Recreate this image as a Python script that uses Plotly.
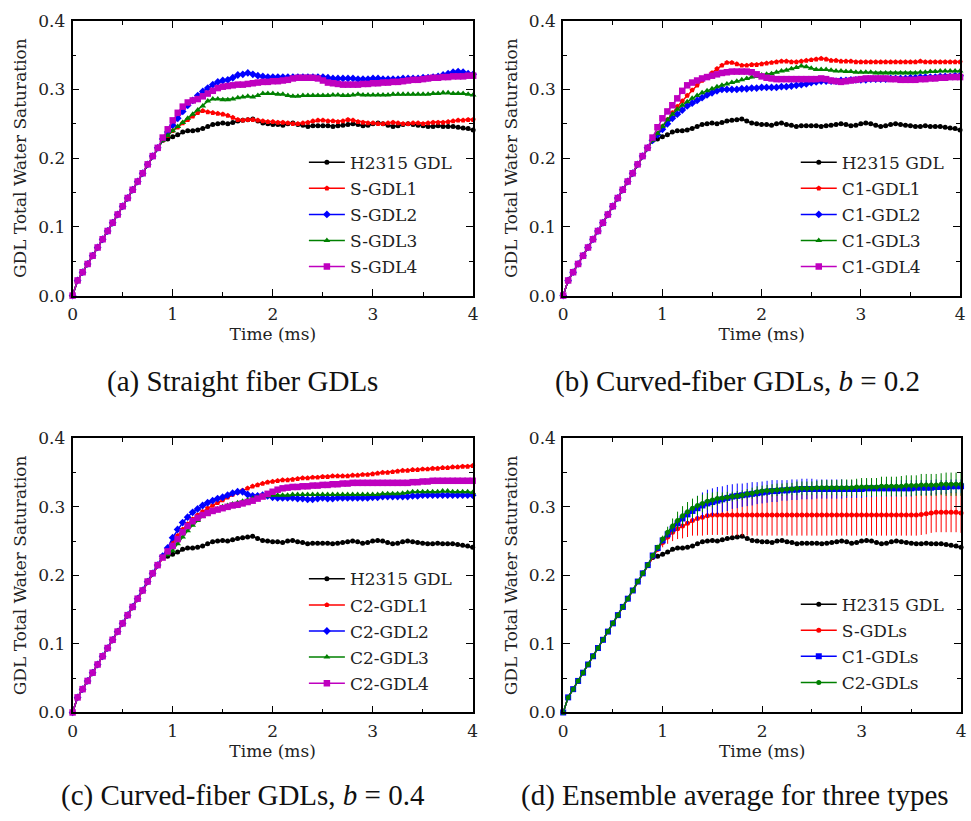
import plotly.graph_objects as go

# ---------------- data ----------------
TIME = [0.00, 0.05, 0.10, 0.15, 0.20, 0.25, 0.30, 0.35, 0.40, 0.45,
        0.50, 0.55, 0.60, 0.65, 0.70, 0.75, 0.80, 0.85, 0.90, 0.95,
        1.00, 1.05, 1.10, 1.15, 1.20, 1.25, 1.30, 1.35, 1.40, 1.45,
        1.50, 1.55, 1.60, 1.65, 1.70, 1.75, 1.80, 1.85, 1.90, 1.95,
        2.00, 2.05, 2.10, 2.15, 2.20, 2.25, 2.30, 2.35, 2.40, 2.45,
        2.50, 2.55, 2.60, 2.65, 2.70, 2.75, 2.80, 2.85, 2.90, 2.95,
        3.00, 3.05, 3.10, 3.15, 3.20, 3.25, 3.30, 3.35, 3.40, 3.45,
        3.50, 3.55, 3.60, 3.65, 3.70, 3.75, 3.80, 3.85, 3.90, 3.95,
        4.00]

# common initial ramp, t = 0.00 .. 0.85
RAMP = [0.000, 0.022, 0.034, 0.046, 0.058, 0.070, 0.082, 0.094, 0.106, 0.118,
        0.130, 0.142, 0.154, 0.166, 0.178, 0.191, 0.203, 0.215]
RAMP_ERR = [0, 0, 0, 0, 0, 0, 0, 0, 0, 0, 0, 0, 0, 0, 0, 0, 0, 0]

# tails, t = 0.90 .. 4.00
H2315 = [0.226, 0.228, 0.231, 0.234, 0.238, 0.240, 0.240, 0.241, 0.243, 0.246,
         0.249, 0.250, 0.251, 0.250, 0.252, 0.254, 0.255, 0.256, 0.257, 0.254,
         0.251, 0.250, 0.249, 0.249, 0.248, 0.250, 0.251, 0.249, 0.248, 0.246,
         0.247, 0.247, 0.247, 0.247, 0.246, 0.247, 0.248, 0.249, 0.250, 0.249,
         0.247, 0.248, 0.250, 0.251, 0.250, 0.248, 0.246, 0.247, 0.249, 0.250,
         0.249, 0.248, 0.247, 0.246, 0.246, 0.247, 0.246, 0.246, 0.246, 0.245,
         0.244, 0.243, 0.241]

S_GDL1 = [0.226, 0.233, 0.240, 0.245, 0.251, 0.256, 0.261, 0.266, 0.269, 0.267,
          0.266, 0.265, 0.264, 0.262, 0.259, 0.256, 0.255, 0.256, 0.256, 0.255,
          0.254, 0.253, 0.253, 0.252, 0.252, 0.251, 0.250, 0.250, 0.251, 0.252,
          0.254, 0.255, 0.255, 0.254, 0.254, 0.253, 0.254, 0.256, 0.255, 0.253,
          0.252, 0.251, 0.251, 0.250, 0.250, 0.251, 0.252, 0.251, 0.250, 0.250,
          0.251, 0.251, 0.250, 0.251, 0.252, 0.252, 0.252, 0.253, 0.254, 0.255,
          0.255, 0.256, 0.256]
S_GDL2 = [0.228, 0.238, 0.248, 0.258, 0.268, 0.277, 0.284, 0.291, 0.297, 0.302,
          0.307, 0.311, 0.313, 0.314, 0.317, 0.321, 0.322, 0.324, 0.322, 0.320,
          0.319, 0.318, 0.318, 0.318, 0.318, 0.318, 0.318, 0.318, 0.318, 0.318,
          0.318, 0.318, 0.318, 0.317, 0.316, 0.316, 0.316, 0.316, 0.316, 0.315,
          0.315, 0.315, 0.316, 0.316, 0.315, 0.315, 0.315, 0.315, 0.316, 0.316,
          0.316, 0.316, 0.317, 0.317, 0.318, 0.319, 0.321, 0.323, 0.325, 0.326,
          0.325, 0.323, 0.322]
S_GDL3 = [0.226, 0.233, 0.240, 0.246, 0.252, 0.258, 0.264, 0.270, 0.276, 0.283,
          0.286, 0.286, 0.285, 0.285, 0.286, 0.288, 0.289, 0.290, 0.289, 0.291,
          0.294, 0.294, 0.294, 0.293, 0.293, 0.291, 0.290, 0.290, 0.291, 0.291,
          0.291, 0.291, 0.291, 0.291, 0.292, 0.292, 0.291, 0.291, 0.292, 0.293,
          0.292, 0.292, 0.292, 0.292, 0.292, 0.292, 0.293, 0.293, 0.293, 0.293,
          0.293, 0.293, 0.293, 0.293, 0.294, 0.294, 0.295, 0.295, 0.294, 0.294,
          0.294, 0.293, 0.292]
S_GDL4 = [0.230, 0.242, 0.255, 0.266, 0.275, 0.281, 0.284, 0.286, 0.290, 0.294,
          0.298, 0.302, 0.304, 0.305, 0.306, 0.307, 0.307, 0.308, 0.309, 0.310,
          0.311, 0.311, 0.312, 0.312, 0.313, 0.314, 0.316, 0.317, 0.317, 0.317,
          0.317, 0.316, 0.313, 0.310, 0.309, 0.308, 0.307, 0.307, 0.307, 0.307,
          0.308, 0.308, 0.309, 0.309, 0.310, 0.310, 0.311, 0.311, 0.312, 0.313,
          0.314, 0.314, 0.315, 0.316, 0.317, 0.317, 0.318, 0.318, 0.319, 0.319,
          0.319, 0.320, 0.320]

C1_GDL1 = [0.226, 0.236, 0.246, 0.256, 0.266, 0.275, 0.283, 0.291, 0.299, 0.306,
           0.313, 0.319, 0.324, 0.330, 0.335, 0.339, 0.339, 0.337, 0.335, 0.335,
           0.336, 0.336, 0.337, 0.338, 0.339, 0.340, 0.341, 0.341, 0.340, 0.340,
           0.341, 0.342, 0.343, 0.344, 0.345, 0.344, 0.342, 0.342, 0.341, 0.341,
           0.341, 0.340, 0.340, 0.340, 0.340, 0.340, 0.340, 0.340, 0.340, 0.340,
           0.340, 0.340, 0.340, 0.340, 0.341, 0.340, 0.340, 0.340, 0.340, 0.340,
           0.340, 0.340, 0.340]
C1_GDL2 = [0.226, 0.234, 0.242, 0.250, 0.258, 0.264, 0.270, 0.276, 0.280, 0.284,
           0.288, 0.292, 0.295, 0.298, 0.300, 0.300, 0.300, 0.300, 0.301, 0.301,
           0.302, 0.302, 0.303, 0.303, 0.303, 0.303, 0.304, 0.304, 0.305, 0.306,
           0.307, 0.308, 0.310, 0.311, 0.312, 0.312, 0.312, 0.312, 0.313, 0.313,
           0.314, 0.314, 0.314, 0.314, 0.315, 0.315, 0.315, 0.315, 0.316, 0.316,
           0.316, 0.316, 0.317, 0.317, 0.318, 0.318, 0.318, 0.318, 0.319, 0.319,
           0.319, 0.320, 0.320]
C1_GDL3 = [0.226, 0.236, 0.246, 0.256, 0.264, 0.271, 0.277, 0.282, 0.287, 0.291,
           0.295, 0.298, 0.301, 0.304, 0.306, 0.308, 0.310, 0.312, 0.314, 0.316,
           0.318, 0.319, 0.321, 0.322, 0.323, 0.325, 0.327, 0.328, 0.330, 0.332,
           0.334, 0.333, 0.331, 0.329, 0.329, 0.329, 0.328, 0.327, 0.327, 0.326,
           0.326, 0.325, 0.325, 0.325, 0.325, 0.324, 0.324, 0.324, 0.324, 0.324,
           0.324, 0.324, 0.324, 0.324, 0.325, 0.325, 0.326, 0.326, 0.327, 0.327,
           0.327, 0.327, 0.327]
C1_GDL4 = [0.230, 0.245, 0.258, 0.268, 0.277, 0.287, 0.298, 0.306, 0.310, 0.313,
           0.316, 0.318, 0.320, 0.322, 0.324, 0.325, 0.326, 0.326, 0.326, 0.326,
           0.325, 0.322, 0.319, 0.317, 0.316, 0.315, 0.315, 0.315, 0.315, 0.315,
           0.315, 0.315, 0.315, 0.315, 0.316, 0.315, 0.313, 0.312, 0.311, 0.312,
           0.313, 0.314, 0.315, 0.316, 0.316, 0.316, 0.316, 0.316, 0.315, 0.315,
           0.314, 0.314, 0.314, 0.314, 0.315, 0.315, 0.316, 0.316, 0.317, 0.317,
           0.318, 0.318, 0.318]

C2_GDL1 = [0.226, 0.237, 0.248, 0.258, 0.267, 0.275, 0.282, 0.288, 0.293, 0.298,
           0.302, 0.306, 0.310, 0.314, 0.318, 0.321, 0.324, 0.327, 0.330, 0.332,
           0.334, 0.336, 0.337, 0.338, 0.339, 0.339, 0.340, 0.341, 0.342, 0.342,
           0.343, 0.343, 0.344, 0.344, 0.345, 0.345, 0.345, 0.345, 0.346, 0.346,
           0.347, 0.347, 0.348, 0.349, 0.350, 0.350, 0.351, 0.352, 0.353, 0.353,
           0.354, 0.354, 0.355, 0.355, 0.356, 0.356, 0.357, 0.357, 0.358, 0.358,
           0.359, 0.359, 0.360]
C2_GDL2 = [0.228, 0.240, 0.255, 0.267, 0.277, 0.285, 0.292, 0.297, 0.302, 0.306,
           0.309, 0.312, 0.314, 0.317, 0.320, 0.322, 0.322, 0.318, 0.316, 0.316,
           0.317, 0.316, 0.314, 0.313, 0.313, 0.313, 0.313, 0.312, 0.312, 0.311,
           0.311, 0.312, 0.313, 0.312, 0.312, 0.313, 0.313, 0.313, 0.313, 0.313,
           0.313, 0.313, 0.314, 0.314, 0.315, 0.315, 0.315, 0.315, 0.315, 0.315,
           0.316, 0.316, 0.317, 0.317, 0.317, 0.317, 0.317, 0.317, 0.317, 0.317,
           0.317, 0.317, 0.317]
C2_GDL3 = [0.226, 0.230, 0.236, 0.246, 0.256, 0.265, 0.273, 0.280, 0.286, 0.290,
           0.294, 0.297, 0.300, 0.302, 0.304, 0.306, 0.308, 0.310, 0.312, 0.314,
           0.316, 0.316, 0.317, 0.317, 0.317, 0.317, 0.318, 0.318, 0.318, 0.318,
           0.318, 0.318, 0.318, 0.318, 0.318, 0.318, 0.318, 0.318, 0.318, 0.318,
           0.318, 0.318, 0.318, 0.318, 0.319, 0.319, 0.319, 0.319, 0.320, 0.321,
           0.322, 0.322, 0.322, 0.322, 0.322, 0.322, 0.323, 0.323, 0.322, 0.322,
           0.322, 0.322, 0.321]
C2_GDL4 = [0.226, 0.235, 0.243, 0.253, 0.263, 0.272, 0.279, 0.284, 0.288, 0.291,
           0.294, 0.296, 0.298, 0.300, 0.302, 0.303, 0.305, 0.307, 0.309, 0.312,
           0.315, 0.319, 0.322, 0.325, 0.327, 0.328, 0.329, 0.329, 0.330, 0.330,
           0.331, 0.331, 0.332, 0.332, 0.333, 0.333, 0.334, 0.334, 0.335, 0.335,
           0.335, 0.335, 0.335, 0.335, 0.335, 0.335, 0.335, 0.335, 0.335, 0.335,
           0.336, 0.336, 0.337, 0.337, 0.338, 0.338, 0.338, 0.338, 0.338, 0.338,
           0.338, 0.338, 0.338]

S_MEAN = [0.228, 0.238, 0.248, 0.256, 0.263, 0.268, 0.272, 0.276, 0.280, 0.283,
          0.285, 0.287, 0.288, 0.288, 0.288, 0.288, 0.288, 0.288, 0.288, 0.288,
          0.288, 0.288, 0.288, 0.288, 0.288, 0.288, 0.288, 0.288, 0.288, 0.288,
          0.288, 0.288, 0.288, 0.288, 0.288, 0.288, 0.288, 0.288, 0.288, 0.288,
          0.288, 0.288, 0.288, 0.288, 0.288, 0.288, 0.288, 0.288, 0.288, 0.288,
          0.288, 0.288, 0.288, 0.288, 0.289, 0.290, 0.291, 0.292, 0.292, 0.292,
          0.292, 0.292, 0.291]
S_ERR = [0.001, 0.004, 0.007, 0.010, 0.013, 0.015, 0.018, 0.020, 0.022, 0.025,
         0.027, 0.028, 0.029, 0.029, 0.029, 0.029, 0.030, 0.030, 0.030, 0.030,
         0.030, 0.030, 0.030, 0.030, 0.030, 0.030, 0.030, 0.030, 0.030, 0.030,
         0.030, 0.030, 0.030, 0.030, 0.030, 0.030, 0.030, 0.030, 0.030, 0.030,
         0.030, 0.030, 0.030, 0.030, 0.030, 0.030, 0.030, 0.030, 0.030, 0.030,
         0.030, 0.030, 0.030, 0.030, 0.030, 0.030, 0.029, 0.029, 0.029, 0.029,
         0.029, 0.029, 0.029]
C1_MEAN = [0.229, 0.240, 0.251, 0.260, 0.268, 0.276, 0.283, 0.289, 0.294, 0.298,
           0.302, 0.305, 0.307, 0.309, 0.311, 0.313, 0.315, 0.316, 0.317, 0.318,
           0.319, 0.320, 0.321, 0.322, 0.323, 0.323, 0.324, 0.324, 0.325, 0.325,
           0.326, 0.326, 0.326, 0.326, 0.326, 0.326, 0.326, 0.326, 0.326, 0.326,
           0.326, 0.326, 0.326, 0.327, 0.327, 0.327, 0.327, 0.327, 0.327, 0.327,
           0.327, 0.327, 0.327, 0.328, 0.328, 0.328, 0.328, 0.329, 0.329, 0.329,
           0.330, 0.330, 0.330]
C1_ERR = [0.000, 0.002, 0.004, 0.006, 0.008, 0.010, 0.012, 0.014, 0.016, 0.018,
          0.019, 0.020, 0.020, 0.020, 0.019, 0.019, 0.018, 0.018, 0.017, 0.017,
          0.017, 0.016, 0.016, 0.016, 0.016, 0.016, 0.015, 0.015, 0.015, 0.015,
          0.015, 0.015, 0.015, 0.014, 0.014, 0.014, 0.014, 0.014, 0.014, 0.013,
          0.013, 0.013, 0.013, 0.013, 0.013, 0.012, 0.012, 0.012, 0.012, 0.012,
          0.012, 0.012, 0.012, 0.011, 0.011, 0.011, 0.011, 0.011, 0.010, 0.010,
          0.010, 0.010, 0.010]
C2_MEAN = [0.229, 0.241, 0.253, 0.263, 0.272, 0.280, 0.287, 0.293, 0.298, 0.302,
           0.305, 0.308, 0.310, 0.312, 0.313, 0.314, 0.315, 0.316, 0.317, 0.319,
           0.320, 0.322, 0.323, 0.324, 0.324, 0.325, 0.325, 0.326, 0.326, 0.327,
           0.327, 0.327, 0.327, 0.328, 0.328, 0.328, 0.328, 0.328, 0.328, 0.328,
           0.328, 0.329, 0.329, 0.329, 0.329, 0.329, 0.330, 0.330, 0.330, 0.330,
           0.330, 0.331, 0.331, 0.331, 0.332, 0.332, 0.332, 0.332, 0.333, 0.333,
           0.333, 0.333, 0.333]
C2_ERR = [0.000, 0.003, 0.005, 0.008, 0.011, 0.013, 0.014, 0.014, 0.014, 0.014,
          0.013, 0.012, 0.011, 0.010, 0.008, 0.008, 0.007, 0.007, 0.007, 0.007,
          0.008, 0.008, 0.008, 0.008, 0.009, 0.009, 0.009, 0.009, 0.009, 0.010,
          0.010, 0.010, 0.010, 0.010, 0.011, 0.011, 0.011, 0.011, 0.012, 0.012,
          0.012, 0.012, 0.013, 0.013, 0.013, 0.013, 0.014, 0.014, 0.014, 0.014,
          0.015, 0.015, 0.015, 0.015, 0.016, 0.016, 0.016, 0.016, 0.016, 0.017,
          0.017, 0.017, 0.017]

CAPTIONS = ["(a) Straight fiber GDLs",
            "(b) Curved-fiber GDLs, <i>b</i> = 0.2",
            "(c) Curved-fiber GDLs, <i>b</i> = 0.4",
            "(d) Ensemble average for three types"]
X_TITLE = "Time (ms)"
Y_TITLE = "GDL Total Water Saturation"

# ---------------- styles ----------------
BLACK, RED, BLUE, GREEN, MAG = "#000000", "#ff0000", "#0000ff", "#008000", "#bf00bf"
SERIF = "DejaVu Serif"
CAPFONT = "Liberation Serif"

STYLE = {
    "k": dict(color=BLACK, symbol="circle", size=5),
    "r": dict(color=RED, symbol="pentagon", size=5.5),
    "b": dict(color=BLUE, symbol="diamond", size=6),
    "g": dict(color=GREEN, symbol="triangle-up", size=6),
    "m": dict(color=MAG, symbol="square", size=6.5),
    "rd": dict(color=RED, symbol="circle", size=5),
    "bd": dict(color=BLUE, symbol="square", size=6),
    "gd": dict(color=GREEN, symbol="circle", size=5),
}

fig = go.Figure()
_count = [0]


def add(panel, name, tail, st, legend, err=None):
    s = STYLE[st]
    _count[0] += 1
    tr = go.Scatter(
        x=TIME, y=RAMP + tail, name=name, mode="lines+markers",
        xaxis="x" if panel == 1 else f"x{panel}",
        yaxis="y" if panel == 1 else f"y{panel}",
        line=dict(color=s["color"], width=1.5),
        marker=dict(color=s["color"], symbol=s["symbol"], size=s["size"], line=dict(width=0)),
        legend=legend, legendgroup=f"g{_count[0]}", cliponaxis=False,
    )
    if err is not None:
        tr.error_y = dict(type="data", array=RAMP_ERR + err, visible=True,
                          color=s["color"], thickness=1, width=0)
    fig.add_trace(tr)


add(1, "H2315 GDL", H2315, "k", "legend")
add(1, "S-GDL1", S_GDL1, "r", "legend")
add(1, "S-GDL2", S_GDL2, "b", "legend")
add(1, "S-GDL3", S_GDL3, "g", "legend")
add(1, "S-GDL4", S_GDL4, "m", "legend")

add(2, "H2315 GDL", H2315, "k", "legend2")
add(2, "C1-GDL1", C1_GDL1, "r", "legend2")
add(2, "C1-GDL2", C1_GDL2, "b", "legend2")
add(2, "C1-GDL3", C1_GDL3, "g", "legend2")
add(2, "C1-GDL4", C1_GDL4, "m", "legend2")

add(3, "H2315 GDL", H2315, "k", "legend3")
add(3, "C2-GDL1", C2_GDL1, "r", "legend3")
add(3, "C2-GDL2", C2_GDL2, "b", "legend3")
add(3, "C2-GDL3", C2_GDL3, "g", "legend3")
add(3, "C2-GDL4", C2_GDL4, "m", "legend3")

add(4, "H2315 GDL", H2315, "k", "legend4")
add(4, "S-GDLs", S_MEAN, "rd", "legend4", S_ERR)
add(4, "C1-GDLs", C1_MEAN, "bd", "legend4", C1_ERR)
add(4, "C2-GDLs", C2_MEAN, "gd", "legend4", C2_ERR)

W, H = 971, 821
XD = {1: (68.3, 473.0), 2: (564.0, 965.0), 3: (68.3, 472.5), 4: (564.0, 966.0)}
YD = {1: (11.0, 292.7), 2: (11.0, 292.7), 3: (439.0, 720.0), 4: (439.0, 720.0)}

tickfont = dict(family=SERIF, size=17, color="#222222")
titlefont = dict(family=SERIF, size=17, color="#222222")
layout = dict(width=W, height=H, margin=dict(l=0, r=0, t=0, b=0),
              paper_bgcolor="white", plot_bgcolor="white", showlegend=True)

for p in (1, 2, 3, 4):
    xs = "" if p == 1 else str(p)
    x0, x1 = XD[p]
    yt, yb = YD[p]
    common = dict(showline=True, linecolor="black", linewidth=1.8, mirror="allticks",
                  ticks="inside", ticklen=7, tickwidth=1.2, tickcolor="black",
                  showgrid=False, zeroline=False, tickfont=tickfont, ticklabelstandoff=2)
    layout["xaxis" + xs] = dict(
        domain=[x0 / W, x1 / W], anchor="y" + xs, range=[0, 4], tick0=0, dtick=1,
        minor=dict(ticks="inside", ticklen=4, dtick=0.5, tick0=0, tickcolor="black", tickwidth=1),
        title=dict(text=X_TITLE, font=titlefont, standoff=3), **common)
    layout["yaxis" + xs] = dict(
        domain=[1 - yb / H, 1 - yt / H], anchor="x" + xs, range=[0, 0.4], tick0=0, dtick=0.1,
        tickformat=".1f",
        minor=dict(ticks="inside", ticklen=4, dtick=0.05, tick0=0, tickcolor="black", tickwidth=1),
        title=dict(text=Y_TITLE, font=titlefont, standoff=7), **common)

LEG = {"legend": (302, 138), "legend2": (799, 138), "legend3": (302, 565), "legend4": (799, 591)}
for k, (lx, ly) in LEG.items():
    layout[k] = dict(x=lx / W, y=1 - ly / H, xanchor="left", yanchor="top",
                     bgcolor="rgba(0,0,0,0)", borderwidth=0, traceorder="grouped",
                     font=dict(family=SERIF, size=17, color="#222222"),
                     itemwidth=36, tracegroupgap=1)

CAP_POS = [(240, 381), (740, 381), (240, 805), (738, 805)]
layout["annotations"] = [
    dict(text=t, x=cx / W, y=1 - cy / H, xref="paper", yref="paper", showarrow=False,
         xanchor="center", yanchor="middle", font=dict(family=CAPFONT, size=29, color="#111111"))
    for t, (cx, cy) in zip(CAPTIONS, CAP_POS)
]

fig.update_layout(**layout)
fig.write_html("out.html")
